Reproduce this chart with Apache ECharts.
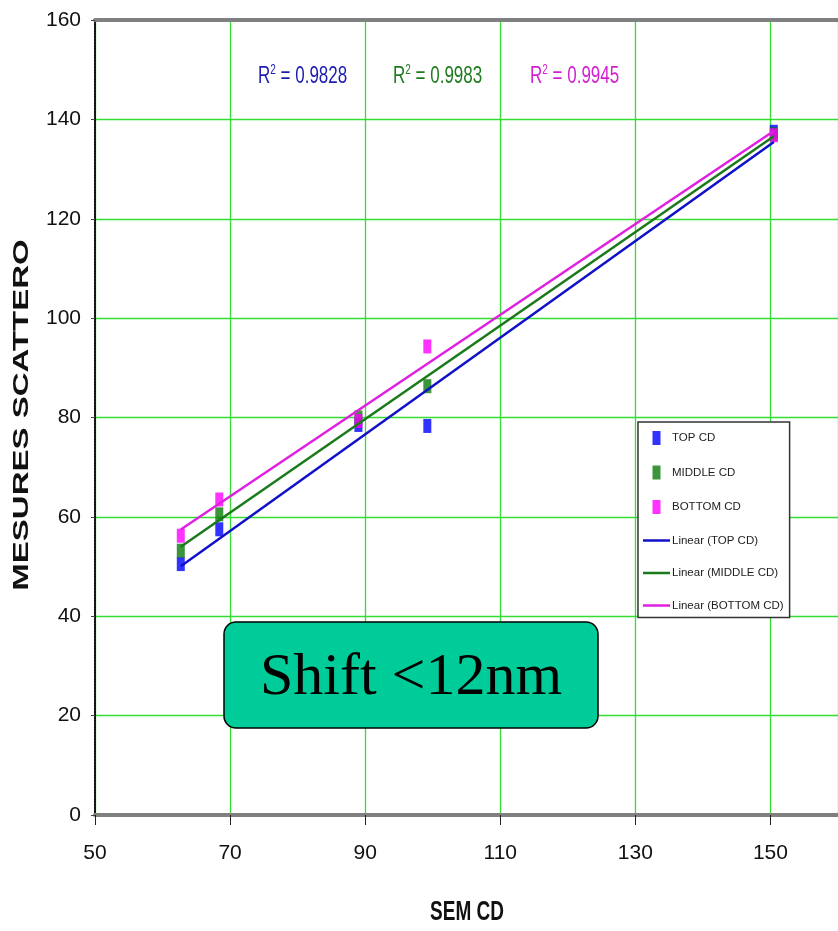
<!DOCTYPE html>
<html>
<head>
<meta charset="utf-8">
<script src="https://cdn.jsdelivr.net/npm/echarts@6/dist/echarts.min.js"></script>
<style>
html,body{margin:0;padding:0;background:#fff;}
#chart{width:838px;height:931px;}
</style>
</head>
<body>
<div id="chart"></div>
<script>
// ---- data ----
const semCD = [62.7, 68.4, 89.0, 99.2, 150.5];
const topCD = [50.5, 57.5, 78.5, 78.3, 137.5];
const middleCD = [53.2, 60.5, 80.0, 86.3, 137.0];
const bottomCD = [56.2, 63.5, 79.3, 94.3, 136.8];
const seriesNames = ['TOP CD', 'MIDDLE CD', 'BOTTOM CD'];
const r2Labels = ['0.9828', '0.9983', '0.9945'];
const xTicks = [50, 160, 20];   // min, max, interval
const yTicks = [0, 160, 20];
const markerColors = ['#0000ff', '#0a7a0a', '#ff00ff'];
const lineColors = ['#1010c8', '#1a7a1a', '#e020e0'];
const r2Colors = ['#1c1cb0', '#1e7b1e', '#d21fd2'];

function regression(xs, ys) {
  const n = xs.length;
  const mx = xs.reduce((a, b) => a + b, 0) / n;
  const my = ys.reduce((a, b) => a + b, 0) / n;
  let sxy = 0, sxx = 0;
  for (let i = 0; i < n; i++) { sxy += (xs[i] - mx) * (ys[i] - my); sxx += (xs[i] - mx) ** 2; }
  const k = sxy / sxx, b = my - k * mx;
  const x0 = Math.min(...xs), x1 = Math.max(...xs);
  return [[x0, k * x0 + b], [x1, k * x1 + b]];
}

const ySets = [topCD, middleCD, bottomCD];
const series = [];
ySets.forEach((ys, i) => {
  series.push({
    name: seriesNames[i],
    type: 'scatter',
    symbol: 'rect',
    symbolSize: [8, 14],
    itemStyle: { color: markerColors[i] },
    z: 3 + i,
    data: semCD.map((x, j) => [x, ys[j]])
  });
});
ySets.forEach((ys, i) => {
  series.push({
    name: 'Linear (' + seriesNames[i] + ')',
    type: 'line',
    symbol: 'none',
    lineStyle: { color: lineColors[i], width: 2.5 },
    itemStyle: { color: lineColors[i] },
    z: 10 + i,
    silent: true,
    data: regression(semCD, ys)
  });
});

const sans = "'Liberation Sans', Arial, sans-serif";

const legendData = seriesNames.map(n => ({ name: n, icon: 'path://M0,0h8v14h-8z' }))
  .concat(seriesNames.map(n => ({ name: 'Linear (' + n + ')', icon: 'path://M0,0h27v2.5h-27z' })));

const graphics = [];
const r2X = [258, 393, 530];
r2Labels.forEach((v, i) => {
  graphics.push({
    type: 'text', x: r2X[i], y: 76, scaleY: 1.45, z: 50,
    style: {
      text: '{r|R}{s|2}{r| = ' + v + '}',
      fill: r2Colors[i],
      verticalAlign: 'middle',
      rich: {
        r: { fontFamily: sans, fontSize: 17, fill: r2Colors[i], lineHeight: 18 },
        s: { fontFamily: sans, fontSize: 10, fill: r2Colors[i], verticalAlign: 'top', lineHeight: 18 }
      }
    }
  });
});
graphics.push({
  type: 'text', x: 22, y: 415, rotation: Math.PI / 2, scaleX: 1.5, z: 50,
  style: { text: 'MESURES SCATTERO', font: 'bold 22px ' + sans, fill: '#111', align: 'center', verticalAlign: 'middle' }
});
graphics.push({
  type: 'text', x: 467, y: 912, scaleY: 1.5, z: 50,
  style: { text: 'SEM CD', font: 'bold 19px ' + sans, fill: '#111', align: 'center', verticalAlign: 'middle' }
});
graphics.push({
  type: 'rect', z: 60,
  shape: { x: 224, y: 622, width: 374, height: 106, r: 12 },
  style: { fill: '#00cc99', stroke: '#000', lineWidth: 1.5 }
});
graphics.push({
  type: 'text', x: 411, y: 678, z: 61,
  style: { text: 'Shift <12nm', font: '60px "Liberation Serif", "Times New Roman", serif', fill: '#000', align: 'center', verticalAlign: 'middle' }
});

const chart = echarts.init(document.getElementById('chart'), null, { renderer: 'canvas' });
chart.setOption({
  animation: false,
  backgroundColor: '#fff',
  grid: { left: 95, right: -5, top: 20, bottom: 116, containLabel: false },
  xAxis: [{
    type: 'value', min: xTicks[0], max: xTicks[1], interval: xTicks[2],
    axisLine: { show: true, onZero: false, lineStyle: { color: '#808080', width: 4, type: [2, 1] } },
    axisTick: { show: true, length: 10, lineStyle: { color: '#222', width: 1 } },
    axisLabel: { show: true, margin: 28, fontFamily: sans, fontSize: 21, color: '#111', showMaxLabel: false },
    splitLine: { show: true, lineStyle: { color: '#33dd33', width: 1.3 } }
  }, {
    type: 'value', position: 'top', min: xTicks[0], max: xTicks[1], interval: xTicks[2],
    axisLine: { show: true, onZero: false, lineStyle: { color: '#808080', width: 4, type: [2, 1] } },
    axisTick: { show: false }, axisLabel: { show: false }, splitLine: { show: false }
  }],
  yAxis: {
    type: 'value', min: yTicks[0], max: yTicks[1], interval: yTicks[2],
    axisLine: { show: true, onZero: false, lineStyle: { color: '#111', width: 2, type: [2, 1] } },
    axisTick: { show: true, length: 4, lineStyle: { color: '#444' } },
    axisLabel: { margin: 14, fontFamily: sans, fontSize: 21, color: '#111' },
    splitLine: { show: true, lineStyle: { color: '#33dd33', width: 1.3 } }
  },
  legend: {
    orient: 'vertical', left: 638, top: 422, width: 155,
    padding: [9, 6, 6, 5],
    itemGap: 20.5, itemWidth: 27, itemHeight: 14,
    backgroundColor: '#fff', borderColor: '#333', borderWidth: 1.5,
    textStyle: { fontFamily: sans, fontSize: 11.5, color: '#222', padding: [0, 0, 0, -3] },
    data: legendData,
    selectedMode: false
  },
  series: series,
  graphic: graphics
});
</script>
</body>
</html>
